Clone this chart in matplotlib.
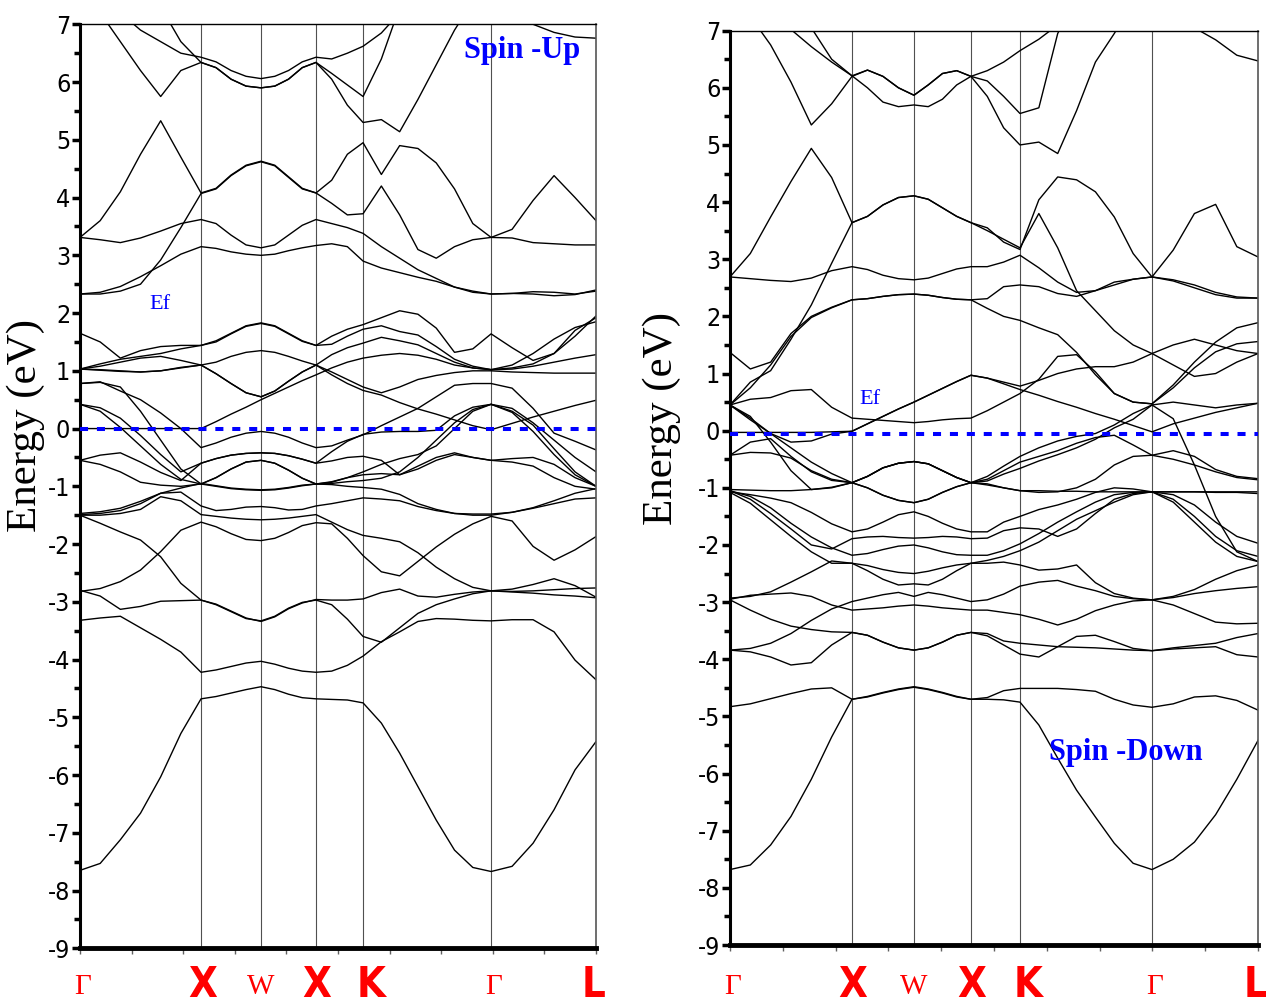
import numpy as np
import matplotlib
matplotlib.use("Agg")
import matplotlib.pyplot as plt
from matplotlib.ticker import FixedLocator, MultipleLocator
from matplotlib import font_manager

plt.rcParams['axes.unicode_minus'] = False

# pick a narrow sans font if one is installed
installed = {f.name for f in font_manager.fontManager.ttflist}
if 'Liberation Sans Narrow' in installed:
    narrow = dict(family='Liberation Sans Narrow', stretch='normal')
    narrow_ok = True
else:
    path = font_manager.findfont(font_manager.FontProperties(family='DejaVu Sans', stretch='condensed'))
    if 'Condensed' in path:
        narrow = dict(family='DejaVu Sans', stretch='condensed')
        narrow_ok = True
    else:
        narrow = dict(family='Liberation Sans', stretch='normal')
        narrow_ok = False
plt.rcParams['font.family'] = narrow['family']
plt.rcParams['font.stretch'] = narrow['stretch']

# high-symmetry path
k_labels = ['Γ', 'X', 'W', 'X', 'K', 'Γ', 'L']
k_bold = [False, True, False, True, True, False, True]
k_shift = [0.02, 0.01, 0.0, 0.01, 0.065, 0.02, -0.02]
k_up = [0.0, 1.0, 1.496, 1.950, 2.339, 3.397, 4.264]
k_down = [0.0, 1.0, 1.508, 1.975, 2.377, 3.459, 4.328]
n_sub = [6, 4, 4, 3, 7, 5]   # samples per segment (last point added at L)

ef_up = 0.0
ef_down = -0.06

# ---- spin up bands (energies in eV) ----
# columns: G-X(6) X  X-W(3) W  W-X(3) X  X-K(2) K  K-G(6) G  G-L(4) L
up_bands = [
    [-7.65,-7.53,-7.12,-6.66,-6.03,-5.28, -4.68, -4.64,-4.58,-4.52, -4.47, -4.52,-4.60,-4.66, -4.68, -4.69,-4.70, -4.75, -5.10,-5.62,-6.20,-6.78,-7.30,-7.60, -7.67, -7.58,-7.18,-6.60,-5.91, -5.42],
    [-3.32,-3.28,-3.25,-3.45,-3.65,-3.87, -4.22, -4.18,-4.12,-4.06, -4.03, -4.08,-4.15,-4.20, -4.22, -4.20,-4.10, -3.94, -3.69,-3.52,-3.34,-3.29,-3.30,-3.32, -3.33, -3.31,-3.31,-3.52,-4.01, -4.35],
    [-2.80,-2.90,-3.13,-3.08,-2.99,-2.98, -2.97, -3.04,-3.16,-3.28, -3.34, -3.26,-3.12,-3.02, -2.96, -2.97,-2.97, -2.95, -2.84,-2.78,-2.90,-2.92,-2.87,-2.83, -2.81, -2.82,-2.81,-2.79,-2.77, -2.76],
    [-2.82,-2.77,-2.65,-2.45,-2.13,-1.76, -1.62, -1.70,-1.82,-1.92, -1.94, -1.90,-1.80,-1.68, -1.63, -1.65,-1.90, -2.20, -2.48,-2.55,-2.30,-2.05,-1.83,-1.65, -1.52, -1.60,-2.04,-2.28,-2.10, -1.87],
    [-1.50,-1.64,-1.79,-1.93,-2.22,-2.68, -2.97, -3.05,-3.17,-3.29, -3.33, -3.25,-3.11,-3.01, -2.97, -3.05,-3.30, -3.60, -3.70,-3.45,-3.20,-3.05,-2.95,-2.86, -2.81, -2.78,-2.70,-2.60,-2.72, -2.92],
    [-1.47,-1.44,-1.38,-1.26,-1.12,-1.03, -0.95, -0.99,-1.03,-1.05, -1.06, -1.05,-1.02,-0.98, -0.96, -0.97,-1.00, -1.02, -1.05,-1.14,-1.30,-1.40,-1.47,-1.50, -1.50, -1.45,-1.37,-1.25,-1.12, -1.04],
    [-1.49,-1.47,-1.42,-1.30,-1.12,-1.10, -1.34, -1.42,-1.40,-1.36, -1.35, -1.37,-1.41,-1.40, -1.34, -1.30,-1.25, -1.20, -1.22,-1.25,-1.35,-1.42,-1.47,-1.48, -1.48, -1.45,-1.38,-1.30,-1.22, -1.20],
    [-1.50,-1.50,-1.47,-1.40,-1.18,-1.25, -1.49, -1.52,-1.55,-1.57, -1.58, -1.57,-1.55,-1.52, -1.49, -1.62,-1.75, -1.85, -1.90,-1.96,-2.15,-2.40,-2.60,-2.75, -2.81, -2.83,-2.85,-2.88,-2.90, -2.93],
    [-0.55,-0.62,-0.75,-0.93,-0.98,-1.00, -0.96, -0.85,-0.70,-0.58, -0.55, -0.60,-0.72,-0.86, -0.96, -0.93,-0.85, -0.80, -0.78,-0.80,-0.70,-0.55,-0.45,-0.50, -0.55, -0.52,-0.50,-0.62,-0.85, -1.00],
    [-0.55,-0.46,-0.42,-0.58,-0.76,-0.90, -0.60, -0.52,-0.46,-0.43, -0.42, -0.43,-0.47,-0.53, -0.60, -0.56,-0.50, -0.48, -0.55,-0.80,-0.65,-0.50,-0.42,-0.50, -0.55, -0.58,-0.65,-0.85,-1.00, -1.05],
    [0.42,0.30,0.02,-0.30,-0.62,-0.88, -0.96, -1.00,-1.04,-1.06, -1.07, -1.06,-1.03,-0.99, -0.96, -0.95,-0.92, -0.90, -0.86,-0.75,-0.50,-0.20,0.10,0.33, 0.42, 0.35,0.10,-0.20,-0.50, -0.75],
    [0.42,0.36,0.18,-0.12,-0.45,-0.75, -0.60, -0.52,-0.46,-0.43, -0.42, -0.43,-0.47,-0.53, -0.60, -0.40,-0.22, -0.10, -0.06,-0.05,-0.05,-0.03,0.22,0.37, 0.42, 0.30,0.06,-0.35,-0.75, -1.00],
    [0.78,0.81,0.65,0.50,0.27,0.00, -0.33, -0.25,-0.15,-0.08, -0.05, -0.08,-0.15,-0.25, -0.33, -0.30,-0.20, -0.11, 0.05,0.20,0.35,0.55,0.75,0.78, 0.78, 0.70,0.35,-0.08,-0.22, -0.37],
    [0.00,0.00,0.00,0.00,0.00,0.00, 0.00, 0.12,0.25,0.37, 0.50, 0.61,0.72,0.83, 0.93, 1.05,1.15, 1.22, 1.27,1.30,1.27,1.20,1.10,1.05, 1.02, 1.03,1.08,1.15,1.22, 1.28],
    [1.03,1.02,1.00,0.98,1.00,1.05, 1.10, 0.95,0.78,0.62, 0.55, 0.65,0.82,0.98, 1.10, 0.93,0.78, 0.66, 0.58,0.45,0.34,0.25,0.15,0.05, -0.02, 0.09,0.20,0.30,0.40, 0.49],
    [1.03,1.08,1.15,1.22,1.25,1.18, 1.10, 1.15,1.25,1.32, 1.35, 1.32,1.25,1.17, 1.10, 1.28,1.40, 1.48, 1.58,1.52,1.45,1.30,1.15,1.05, 1.02, 1.10,1.30,1.55,1.75, 1.85],
    [1.03,1.12,1.20,1.25,1.30,1.38, 1.44, 1.52,1.65,1.78, 1.83, 1.78,1.65,1.52, 1.44, 1.60,1.72, 1.80, 1.92,2.04,1.98,1.74,1.32,1.38, 1.64, 1.40,1.18,1.30,1.70, 1.92],
    [1.65,1.50,1.22,1.35,1.42,1.44, 1.44, 1.50,1.64,1.77, 1.82, 1.77,1.64,1.51, 1.44, 1.46,1.60, 1.72, 1.78,1.68,1.62,1.42,1.20,1.08, 1.02, 1.05,1.12,1.30,1.60, 1.95],
    [1.03,1.01,0.99,0.98,1.00,1.06, 1.10, 0.95,0.78,0.62, 0.55, 0.65,0.82,0.98, 1.10, 0.98,0.85, 0.72, 0.62,0.72,0.85,0.92,0.97,1.00, 1.00, 0.98,0.97,0.96,0.96, 0.96],
    [0.78,0.80,0.72,0.30,-0.20,-0.70, -0.96, -0.85,-0.70,-0.58, -0.55, -0.60,-0.72,-0.86, -0.96, -0.92,-0.85, -0.75, -0.62,-0.52,-0.45,-0.30,0.00,0.30, 0.42, 0.28,-0.05,-0.45,-0.80, -1.00],
    [2.33,2.36,2.46,2.63,2.82,3.02, 3.15, 3.12,3.06,3.02, 3.00, 3.02,3.08,3.13, 3.17, 3.20,3.15, 2.90, 2.78,2.70,2.62,2.55,2.45,2.38, 2.33, 2.34,2.33,2.30,2.32, 2.40],
    [2.33,2.33,2.38,2.50,2.92,3.48, 4.07, 4.15,4.38,4.55, 4.62, 4.55,4.35,4.15, 4.08, 4.30,4.75, 4.95, 4.40,4.90,4.85,4.60,4.15,3.55, 3.31, 3.45,3.95,4.38,4.00, 3.60],
    [3.31,3.60,4.10,4.75,5.33,4.70, 4.08, 4.16,4.39,4.56, 4.63, 4.56,4.36,4.16, 4.08, 3.90,3.70, 3.72, 4.20,3.70,3.10,2.95,3.15,3.27, 3.31, 3.30,3.22,3.20,3.18, 3.18],
    [3.31,3.27,3.22,3.30,3.42,3.55, 3.62, 3.55,3.35,3.18, 3.13, 3.18,3.35,3.52, 3.62, 3.55,3.48, 3.38, 3.15,2.95,2.75,2.60,2.45,2.36, 2.33, 2.34,2.37,2.36,2.33, 2.38],
    [7.60,7.20,6.70,6.20,5.75,6.20, 6.34, 6.25,6.05,5.93, 5.90, 5.93,6.05,6.25, 6.34, 6.15,5.95, 5.75, 6.40,7.30,7.80,8.00,8.00,8.00, 8.00, 8.00,8.00,8.00,8.00, 8.00],
    [7.80,7.50,7.20,6.90,6.70,6.50, 6.43, 6.35,6.20,6.10, 6.06, 6.10,6.20,6.35, 6.43, 6.40,6.50, 6.62, 6.85,7.20,7.50,7.80,8.00,8.00, 8.00, 8.00,8.00,8.00,8.00, 8.00],
    [8.00,7.90,7.70,7.50,7.30,6.70, 6.34, 6.25,6.05,5.93, 5.90, 5.93,6.05,6.25, 6.34, 6.05,5.60, 5.30, 5.35,5.14,5.70,6.30,6.90,7.40, 7.80, 7.50,7.00,6.86,6.78, 6.76],
]

# ---- spin down bands ----
down_bands = [
    [-7.68,-7.60,-7.25,-6.75,-6.10,-5.36, -4.70, -4.65,-4.58,-4.52, -4.48, -4.52,-4.58,-4.65, -4.70, -4.70,-4.71, -4.75, -5.15,-5.73,-6.29,-6.76,-7.22,-7.57, -7.68, -7.50,-7.20,-6.72,-6.10, -5.42],
    [-4.83,-4.78,-4.69,-4.60,-4.52,-4.50, -4.70, -4.66,-4.59,-4.53, -4.49, -4.53,-4.59,-4.66, -4.70, -4.67,-4.55, -4.51, -4.51,-4.51,-4.53,-4.56,-4.70,-4.80, -4.84, -4.78,-4.66,-4.64,-4.72, -4.89],
    [-3.84,-3.87,-3.96,-4.10,-4.06,-3.75, -3.53, -3.58,-3.70,-3.80, -3.84, -3.80,-3.70,-3.58, -3.53, -3.59,-3.75, -3.91, -3.96,-3.78,-3.60,-3.58,-3.69,-3.81, -3.85, -3.80,-3.76,-3.72,-3.62, -3.55],
    [-2.96,-3.14,-3.30,-3.42,-3.48,-3.52, -3.53, -3.58,-3.70,-3.80, -3.84, -3.80,-3.70,-3.58, -3.53, -3.55,-3.68, -3.72, -3.75,-3.78,-3.79,-3.80,-3.82,-3.84, -3.85, -3.82,-3.80,-3.78,-3.92, -3.96],
    [-3.84,-3.81,-3.72,-3.55,-3.32,-3.12, -2.99, -2.93,-2.87,-2.83, -2.90, -2.83,-2.87,-2.93, -2.99, -2.96,-2.86, -2.72, -2.65,-2.62,-2.72,-2.80,-2.90,-2.94, -2.96, -2.92,-2.85,-2.80,-2.76, -2.73],
    [-2.95,-2.88,-2.86,-2.84,-2.90,-3.05, -3.14, -3.12,-3.10,-3.07, -3.05, -3.07,-3.10,-3.12, -3.14, -3.14,-3.18, -3.22, -3.30,-3.40,-3.30,-3.15,-3.05,-2.98, -2.96, -3.05,-3.20,-3.35,-3.38, -3.37],
    [-2.93,-2.90,-2.82,-2.65,-2.47,-2.28, -2.32, -2.45,-2.60,-2.70, -2.68, -2.70,-2.60,-2.45, -2.32, -2.32,-2.30, -2.35, -2.44,-2.42,-2.35,-2.66,-2.85,-2.93, -2.96, -2.90,-2.78,-2.60,-2.45, -2.35],
    [-1.03,-1.04,-1.05,-1.05,-1.03,-0.99, -0.91, -1.00,-1.13,-1.22, -1.26, -1.20,-1.08,-0.98, -0.91, -0.88,-0.76, -0.66, -0.53,-0.42,-0.30,-0.15,0.05,0.20, 0.45, 0.21,-0.60,-1.50,-2.12, -2.29],
    [-1.07,-1.12,-1.18,-1.26,-1.43,-1.63, -1.77, -1.72,-1.60,-1.47, -1.42, -1.50,-1.62,-1.72, -1.77, -1.77,-1.60, -1.50, -1.38,-1.30,-1.20,-1.08,-1.00,-1.02, -1.07, -1.07,-1.07,-1.07,-1.07, -1.07],
    [-1.05,-1.15,-1.35,-1.62,-1.86,-2.05, -2.18, -2.15,-2.08,-2.02, -2.00, -2.05,-2.12,-2.17, -2.18, -2.18,-2.10, -1.98, -1.80,-1.60,-1.42,-1.25,-1.12,-1.08, -1.07, -1.25,-1.60,-1.95,-2.20, -2.29],
    [-1.05,-1.20,-1.45,-1.72,-2.00,-2.07, -1.89, -1.86,-1.85,-1.87, -1.88, -1.87,-1.85,-1.86, -1.89, -1.88,-1.75, -1.70, -1.72,-1.85,-1.72,-1.45,-1.20,-1.10, -1.07, -1.12,-1.30,-1.60,-1.85, -1.97],
    [-1.08,-1.27,-1.56,-1.85,-2.12,-2.32, -2.32, -2.36,-2.43,-2.48, -2.50, -2.46,-2.40,-2.35, -2.32, -2.27,-2.20, -2.10, -1.95,-1.75,-1.55,-1.40,-1.25,-1.12, -1.07, -1.20,-1.50,-1.85,-2.10, -2.20],
    [-0.43,-0.20,-0.14,-0.45,-0.72,-0.87, -0.91, -0.80,-0.65,-0.57, -0.54, -0.58,-0.70,-0.82, -0.91, -0.93,-1.00, -1.05, -1.08,-1.07,-1.00,-0.85,-0.60,-0.45, -0.43, -0.35,-0.45,-0.68,-0.80, -0.84],
    [-0.43,-0.38,-0.39,-0.48,-0.70,-0.85, -0.91, -0.80,-0.65,-0.57, -0.54, -0.58,-0.70,-0.82, -0.91, -0.85,-0.70, -0.55, -0.45,-0.35,-0.22,-0.12,-0.08,-0.25, -0.43, -0.50,-0.60,-0.72,-0.82, -0.86],
    [0.45,0.55,0.58,0.70,0.72,0.41, 0.22, 0.20,0.18,0.16, 0.14, 0.16,0.19,0.21, 0.22, 0.35,0.50, 0.65, 0.90,1.30,1.33,1.03,0.65,0.50, 0.47, 0.75,1.10,1.38,1.52, 1.56],
    [-0.03,-0.03,-0.03,-0.03,-0.03,-0.02, -0.01, 0.12,0.25,0.38, 0.50, 0.62,0.74,0.86, 0.97, 0.92,0.82, 0.72, 0.62,0.51,0.41,0.30,0.20,0.09, -0.02, 0.12,0.22,0.32,0.40, 0.48],
    [0.45,0.19,-0.05,-0.20,-0.18,-0.06, -0.01, 0.12,0.25,0.38, 0.50, 0.62,0.74,0.86, 0.97, 0.92,0.85, 0.78, 0.88,1.00,1.08,1.12,1.12,1.20, 1.35, 1.50,1.60,1.50,1.40, 1.35],
    [0.45,0.22,-0.05,-0.30,-0.55,-0.75, -0.91, -1.00,-1.13,-1.22, -1.26, -1.20,-1.08,-0.98, -0.91, -0.80,-0.62, -0.45, -0.30,-0.18,-0.10,-0.05,0.10,0.30, 0.45, 0.50,0.45,0.40,0.45, 0.48],
    [0.45,0.25,-0.20,-0.70,-1.03,-1.00, -0.91, -0.80,-0.65,-0.57, -0.54, -0.58,-0.70,-0.82, -0.91, -0.95,-1.00, -1.05, -1.05,-1.06,-1.06,-1.07,-1.07,-1.07, -1.07, -1.07,-1.07,-1.08,-1.08, -1.10],
    [1.37,1.08,1.20,1.70,2.00,2.16, 2.29, 2.31,2.35,2.38, 2.39, 2.37,2.33,2.30, 2.29, 2.14,2.00, 1.93, 1.80,1.68,1.37,0.98,0.65,0.50, 0.47, 0.80,1.20,1.55,1.80, 1.89],
    [0.45,0.75,1.15,1.65,1.98,2.15, 2.29, 2.31,2.35,2.38, 2.39, 2.37,2.33,2.30, 2.29, 2.31,2.52, 2.55, 2.52,2.40,2.35,2.45,2.60,2.65, 2.69, 2.62,2.50,2.38,2.32, 2.32],
    [0.45,0.85,1.05,1.60,2.20,2.93, 3.64, 3.75,3.95,4.08, 4.11, 4.05,3.90,3.75, 3.64, 3.50,3.35, 3.20, 3.80,3.20,2.45,2.10,1.75,1.50, 1.35, 1.15,0.95,1.00,1.20, 1.35],
    [2.69,2.66,2.63,2.61,2.67,2.80, 2.87, 2.82,2.72,2.66, 2.64, 2.67,2.75,2.83, 2.87, 2.87,2.95, 3.07, 2.85,2.60,2.42,2.45,2.55,2.65, 2.69, 2.64,2.55,2.42,2.34, 2.32],
    [2.69,3.10,3.74,4.36,4.94,4.43, 3.64, 3.75,3.95,4.08, 4.11, 4.05,3.90,3.75, 3.64, 3.55,3.30, 3.17, 4.04,4.44,4.39,4.18,3.74,3.10, 2.69, 3.16,3.80,3.96,3.22, 3.04],
    [7.90,7.25,6.75,6.10,5.35,5.72, 6.20, 6.31,6.20,6.00, 5.87, 6.05,6.25,6.30, 6.20, 6.12,5.85, 5.55, 5.65,6.95,7.60,8.00,8.30,8.50, 8.60, 8.60,8.60,8.60,8.60, 8.60],
    [8.50,8.00,7.50,7.02,6.72,6.45, 6.21, 6.31,6.20,6.00, 5.87, 6.05,6.25,6.30, 6.20, 6.30,6.45, 6.65, 6.85,7.10,7.40,7.70,8.00,8.20, 8.30, 7.80,7.05,6.84,6.57, 6.47],
    [9.00,8.60,8.00,7.50,7.05,6.50, 6.21, 6.00,5.75,5.67, 5.70, 5.67,5.80,6.05, 6.20, 5.85,5.30, 5.00, 5.05,4.85,5.60,6.45,6.95,7.50, 8.00, 8.60,8.90,9.00,9.00, 9.00],
]


def kgrid(kpts, nsub):
    pts = []
    for a, b, n in zip(kpts[:-1], kpts[1:], nsub):
        pts.extend(np.linspace(a, b, n, endpoint=False))
    pts.append(kpts[-1])
    return np.array(pts)


def draw_panel(ax, kpts, bands, ef, ef_xy, title, title_xy, lab_y):
    k = kgrid(kpts, n_sub)
    for e in bands:
        ax.plot(k, e, color='black', lw=1.0, zorder=2)
    for kk in kpts[1:-1]:
        ax.axvline(kk, color='#505050', lw=0.8, zorder=1)
    ax.axhline(ef, color='#0000ff', lw=2.9, ls=(0, (2.0, 2.2)), zorder=3)

    ax.set_xlim(kpts[0], kpts[-1])
    ax.set_ylim(-9, 7)
    ax.yaxis.set_major_locator(MultipleLocator(1))
    ax.yaxis.set_minor_locator(MultipleLocator(0.5))
    ax.xaxis.set_major_locator(FixedLocator(np.linspace(kpts[0], kpts[-1], 11)))
    ax.set_xticklabels([])
    ax.tick_params(axis='y', which='major', direction='out', length=6, width=2.5,
                   labelsize=18 if narrow_ok else 16, pad=1)
    ax.tick_params(axis='y', which='minor', direction='out', length=4, width=2.5)
    ax.tick_params(axis='x', which='major', direction='out', length=4, width=1.0,
                   color='#606060')

    ax.spines['left'].set_linewidth(2.2)
    ax.spines['bottom'].set_linewidth(3.5)
    ax.spines['top'].set_linewidth(1.0)
    ax.spines['right'].set_linewidth(1.2)
    ax.spines['right'].set_color('#555555')

    ax.set_ylabel('Energy (eV)', fontsize=31, family='Liberation Serif', stretch='normal')

    for kk, lab, bold, dk in zip(kpts, k_labels, k_bold, k_shift):
        if bold:
            ax.text(kk + dk, lab_y, lab, transform=ax.get_xaxis_transform(), color='#ff0000',
                    fontsize=30 if narrow_ok else 26, fontweight='bold', ha='center', va='center',
                    family=narrow['family'], stretch=narrow['stretch'])
        else:
            ax.text(kk + dk, lab_y - 0.002, lab, transform=ax.get_xaxis_transform(), color='#ff0000',
                    fontsize=21, ha='center', va='center', family='Liberation Serif',
                    stretch='normal')

    ax.text(ef_xy[0], ef_xy[1], 'Ef', color='#0000ff', fontsize=16,
            family='Liberation Serif', stretch='normal', ha='center', va='center')
    ax.text(title_xy[0], title_xy[1], title, color='#0000ff', fontsize=22,
            fontweight='bold', family='Liberation Serif', stretch='normal',
            ha='center', va='center')


fig = plt.figure(figsize=(12.66, 10.05), dpi=100)
ax1 = fig.add_axes([0.0632, 0.0564, 0.4076, 0.9194])
ax2 = fig.add_axes([0.5766, 0.0597, 0.4171, 0.9098])

draw_panel(ax1, k_up, up_bands, ef_up, (0.661, 2.14), 'Spin -Up', (3.653, 6.55), -0.04)
draw_panel(ax2, k_down, down_bands, ef_down, (1.148, 0.54), 'Spin -Down', (3.246, -5.64), -0.044)

ax1.yaxis.set_label_coords(-0.068, 0.566)
ax2.yaxis.set_label_coords(-0.092, 0.576)

fig.savefig('out.png', dpi=100, facecolor='white')
